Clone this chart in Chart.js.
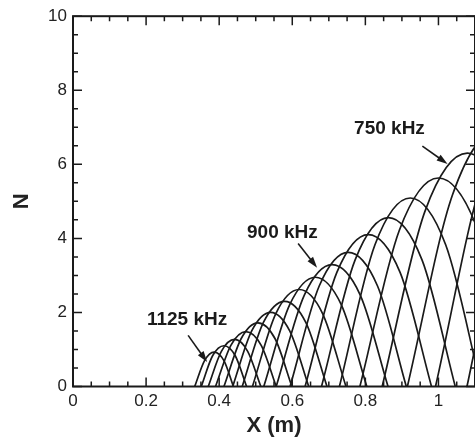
<!DOCTYPE html>
<html>
<head>
<meta charset="utf-8">
<script src="https://cdn.jsdelivr.net/npm/chart.js@4.4.0/dist/chart.umd.min.js"></script>
<style>
html, body { margin: 0; padding: 0; background: #fff; }
</style>
</head>
<body>
<canvas id="c" width="475" height="439"></canvas>
<script>
// N-factor curves, one per frequency (kHz); curves below 750 kHz peak beyond the frame
const freqs  = [1125, 1100, 1075, 1050, 1025, 1000, 975, 950, 925, 900, 875, 850, 825, 800, 775, 750, 725, 700, 675];
const startX = [0.333, 0.351, 0.370, 0.390, 0.413, 0.437, 0.463, 0.491, 0.522, 0.556, 0.594, 0.635, 0.680, 0.729, 0.785, 0.846, 0.915, 0.992, 1.078];
const riseX  = [0.360, 0.382, 0.406, 0.432, 0.460, 0.489, 0.521, 0.555, 0.593, 0.633, 0.674, 0.722, 0.772, 0.826, 0.893, 0.963, 1.039, 1.123, 1.215];
const riseN  = [0.70, 0.83, 0.95, 1.11, 1.29, 1.50, 1.73, 1.97, 2.21, 2.47, 2.72, 3.08, 3.42, 3.82, 4.22, 4.73, 5.19, 5.70, 6.23];
const peakX  = [0.386, 0.413, 0.442, 0.473, 0.506, 0.541, 0.579, 0.619, 0.663, 0.709, 0.753, 0.808, 0.863, 0.923, 1.000, 1.079, 1.163, 1.254, 1.352];
const peakN  = [0.93, 1.10, 1.27, 1.48, 1.72, 2.00, 2.30, 2.62, 2.95, 3.29, 3.62, 4.10, 4.56, 5.09, 5.63, 6.30, 6.92, 7.60, 8.30];
const fallX  = [0.413, 0.444, 0.478, 0.515, 0.553, 0.593, 0.637, 0.683, 0.734, 0.786, 0.833, 0.895, 0.955, 1.020, 1.108, 1.196, 1.287, 1.385, 1.489];
const fallN  = [0.70, 0.83, 0.95, 1.11, 1.29, 1.50, 1.73, 1.97, 2.21, 2.47, 2.72, 3.08, 3.42, 3.82, 4.22, 4.73, 5.19, 5.70, 6.23];
const endX   = [0.439, 0.475, 0.514, 0.556, 0.599, 0.645, 0.695, 0.747, 0.804, 0.862, 0.912, 0.981, 1.046, 1.117, 1.215, 1.312, 1.411, 1.516, 1.626];

const xTicks = [0, 0.2, 0.4, 0.6, 0.8, 1];
const yTicks = [0, 2, 4, 6, 8, 10];

// labelled frequencies: text position and arrow (data coords)
const noteText = ['750 kHz', '900 kHz', '1125 kHz'];
const noteX    = [0.866, 0.573, 0.312];
const noteY    = [6.95, 4.15, 1.79];
const arrowX0  = [0.956, 0.616, 0.315];
const arrowY0  = [6.49, 3.86, 1.38];
const arrowX1  = [1.025, 0.668, 0.367];
const arrowY1  = [6.01, 3.21, 0.66];

const INK = '#1a1a1a';
const FONT = '"Liberation Sans", Arial, Helvetica, sans-serif';

const datasets = freqs.map((f, i) => ({
    label: f + ' kHz',
    data: [
        { x: startX[i], y: 0 },
        { x: riseX[i], y: riseN[i] },
        { x: peakX[i], y: peakN[i] },
        { x: fallX[i], y: fallN[i] },
        { x: endX[i], y: 0 }
    ],
    borderColor: INK,
    borderWidth: 1.7,
    pointRadius: 0,
    fill: false,
    cubicInterpolationMode: 'monotone'
}));

// frame with inward ticks on all four sides
const frameTicks = {
    id: 'frameTicks',
    afterDraw(chart) {
        const { ctx, chartArea: a, scales: { x, y } } = chart;
        ctx.save();
        ctx.strokeStyle = INK;
        ctx.lineWidth = 1.5;
        ctx.beginPath();
        for (let k = 0; k <= 22; k++) {
            const px = x.getPixelForValue(k * 0.05);
            const len = k % 4 === 0 ? 9 : 5;
            ctx.moveTo(px, a.bottom); ctx.lineTo(px, a.bottom - len);
            ctx.moveTo(px, a.top); ctx.lineTo(px, a.top + len);
        }
        for (let k = 0; k <= 20; k++) {
            const py = y.getPixelForValue(k * 0.5);
            const len = k % 4 === 0 ? 9 : 5;
            ctx.moveTo(a.left, py); ctx.lineTo(a.left + len, py);
            ctx.moveTo(a.right, py); ctx.lineTo(a.right - len, py);
        }
        ctx.stroke();
        ctx.lineWidth = 2;
        ctx.strokeRect(a.left, a.top, a.right - a.left, a.bottom - a.top);
        ctx.restore();
    }
};

const notes = {
    id: 'notes',
    afterDatasetsDraw(chart) {
        const { ctx, scales: { x, y } } = chart;
        ctx.save();
        ctx.fillStyle = INK;
        ctx.strokeStyle = INK;
        ctx.font = 'bold 19px ' + FONT;
        ctx.textAlign = 'center';
        ctx.textBaseline = 'middle';
        noteText.forEach((t, i) => {
            ctx.fillText(t, x.getPixelForValue(noteX[i]), y.getPixelForValue(noteY[i]));
            const x0 = x.getPixelForValue(arrowX0[i]), y0 = y.getPixelForValue(arrowY0[i]);
            const x1 = x.getPixelForValue(arrowX1[i]), y1 = y.getPixelForValue(arrowY1[i]);
            const ang = Math.atan2(y1 - y0, x1 - x0);
            ctx.lineWidth = 1.6;
            ctx.beginPath();
            ctx.moveTo(x0, y0);
            ctx.lineTo(x1 - 6 * Math.cos(ang), y1 - 6 * Math.sin(ang));
            ctx.stroke();
            ctx.beginPath();
            ctx.moveTo(x1, y1);
            ctx.lineTo(x1 - 11 * Math.cos(ang) + 3.5 * Math.sin(ang), y1 - 11 * Math.sin(ang) - 3.5 * Math.cos(ang));
            ctx.lineTo(x1 - 11 * Math.cos(ang) - 3.5 * Math.sin(ang), y1 - 11 * Math.sin(ang) + 3.5 * Math.cos(ang));
            ctx.closePath();
            ctx.fill();
        });
        ctx.restore();
    }
};

new Chart(document.getElementById('c'), {
    type: 'line',
    data: { datasets },
    plugins: [frameTicks, notes],
    options: {
        responsive: false,
        animation: false,
        devicePixelRatio: 1,
        layout: { padding: { top: 15, right: 0, left: 0, bottom: 0 } },
        plugins: { legend: { display: false }, tooltip: { enabled: false } },
        scales: {
            x: {
                type: 'linear',
                min: 0,
                max: 1.1,
                afterFit(s) { s.height = 52.5; },
                afterBuildTicks(s) { s.ticks = xTicks.map(v => ({ value: v })); },
                grid: { display: false, drawTicks: false },
                border: { display: false },
                ticks: {
                    padding: 5,
                    color: '#222',
                    font: { family: FONT, size: 17 },
                    callback: v => String(v)
                },
                title: {
                    display: true,
                    text: 'X (m)',
                    color: '#222',
                    font: { family: FONT, size: 22, weight: 'bold' },
                    padding: { top: 0, bottom: 0 }
                }
            },
            y: {
                type: 'linear',
                min: 0,
                max: 10,
                afterFit(s) { s.width = 73; },
                afterBuildTicks(s) { s.ticks = yTicks.map(v => ({ value: v })); },
                grid: { display: false, drawTicks: false },
                border: { display: false },
                ticks: {
                    padding: 6,
                    color: '#222',
                    font: { family: FONT, size: 17 },
                    callback: v => String(v)
                },
                title: {
                    display: true,
                    text: 'N',
                    color: '#222',
                    font: { family: FONT, size: 22, weight: 'bold' },
                    padding: { top: 9, bottom: 0 }
                }
            }
        }
    }
});
</script>
</body>
</html>
